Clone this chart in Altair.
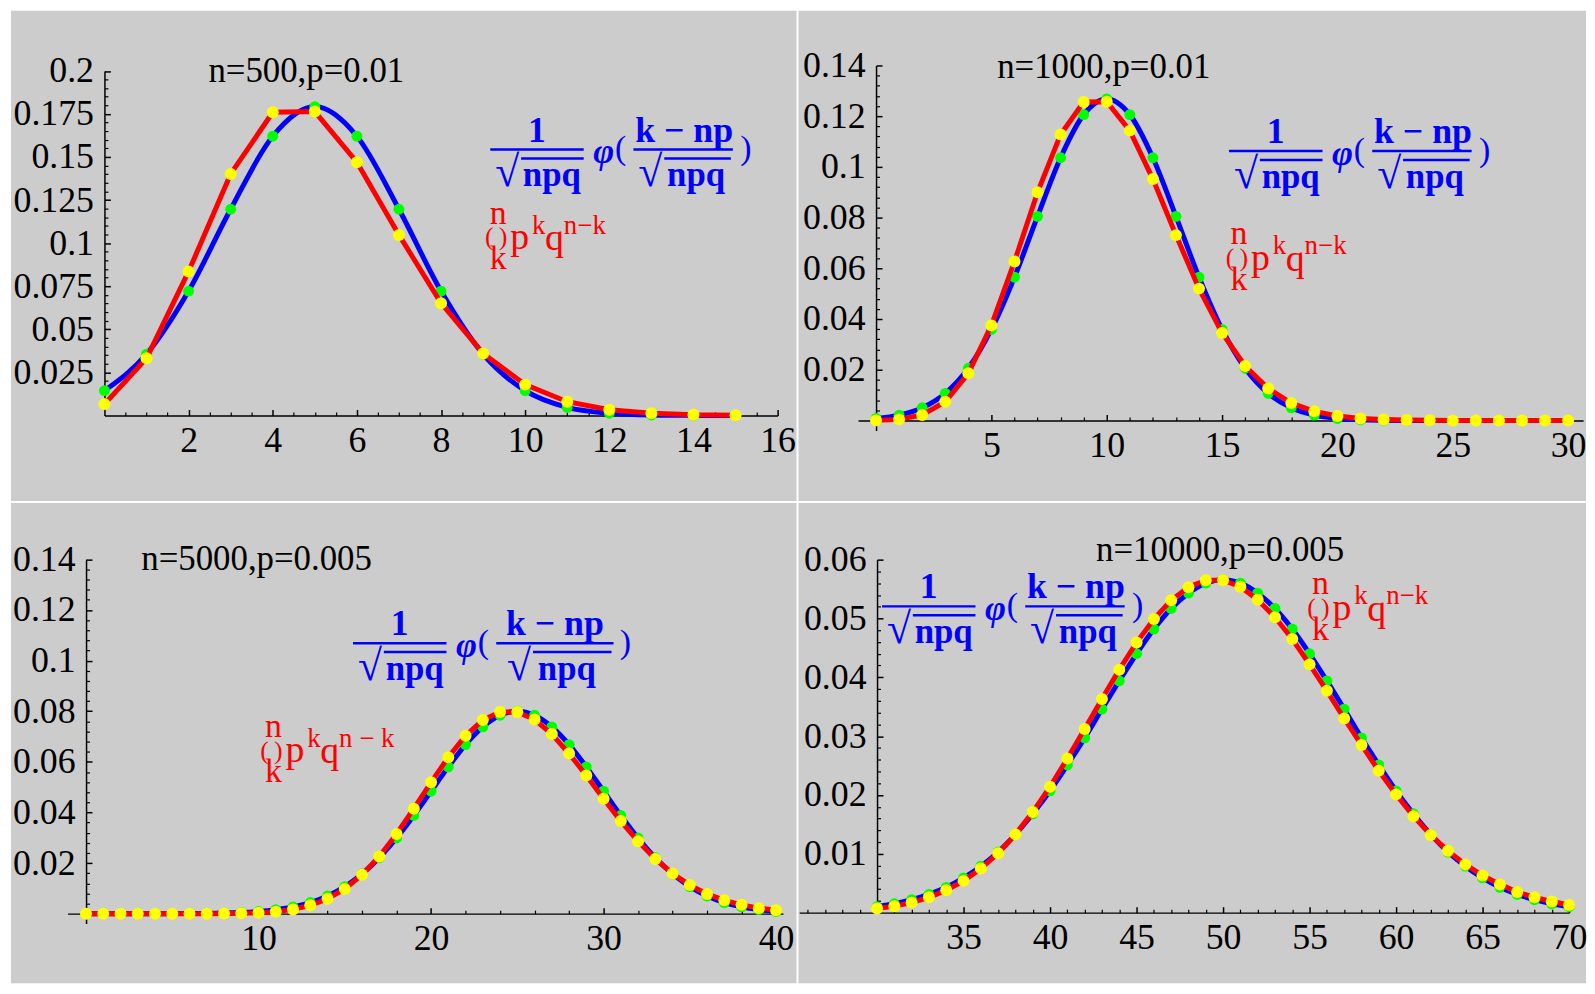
import altair as alt
import pandas as pd

FONT = "Liberation Serif"

# ---------------- data ----------------
K1 = list(range(0, 16))
BINOM1 = [0.0066, 0.0332, 0.0836, 0.1402, 0.1760, 0.1764, 0.1470, 0.1048,
          0.0652, 0.0360, 0.0179, 0.0080, 0.0033, 0.0013, 0.0004, 0.0001]
NORMAL1 = [0.0144, 0.0356, 0.0722, 0.1197, 0.1621, 0.1793, 0.1621, 0.1197,
           0.0722, 0.0356, 0.0144, 0.0047, 0.0013, 0.0003, 0.00005, 0.00001]

K2 = list(range(0, 31))
BINOM2 = [0.00004, 0.00044, 0.0022, 0.0074, 0.0186, 0.0375, 0.0627, 0.0900,
          0.1128, 0.1256, 0.1257, 0.1143, 0.0952, 0.0731, 0.0520, 0.0345,
          0.0215, 0.0126, 0.0069, 0.0036, 0.0018, 0.0008, 0.0004, 0.0002,
          0.0001, 0.00003, 0.00001, 0.0, 0.0, 0.0, 0.0]
NORMAL2 = [0.0008, 0.0021, 0.0050, 0.0107, 0.0206, 0.0359, 0.0565, 0.0805,
           0.1036, 0.1206, 0.1268, 0.1206, 0.1036, 0.0805, 0.0565, 0.0359,
           0.0206, 0.0107, 0.0050, 0.0021, 0.0008, 0.0003, 0.0001, 0.0,
           0.0, 0.0, 0.0, 0.0, 0.0, 0.0, 0.0]

K3 = list(range(0, 41))
BINOM3 = [0.0, 0.0, 0.0, 0.0, 0.0, 0.0, 0.0, 0.00002, 0.00005, 0.00014,
          0.00036, 0.0008, 0.0017, 0.0033, 0.0059, 0.0098, 0.0154, 0.0226,
          0.0315, 0.0415, 0.0519, 0.0618, 0.0703, 0.0765, 0.0797, 0.0797,
          0.0767, 0.0710, 0.0633, 0.0546, 0.0454, 0.0366, 0.0286, 0.0216,
          0.0159, 0.0113, 0.0078, 0.0053, 0.0035, 0.0022, 0.0014]
NORMAL3 = [0.0, 0.0, 0.0, 0.0, 0.00001, 0.00003, 0.00006, 0.00012, 0.00024,
           0.00047, 0.00087, 0.0016, 0.0027, 0.0044, 0.0070, 0.0107, 0.0157,
           0.0221, 0.0299, 0.0388, 0.0484, 0.0580, 0.0668, 0.0738, 0.0784,
           0.0800, 0.0784, 0.0738, 0.0668, 0.0580, 0.0484, 0.0388, 0.0299,
           0.0221, 0.0157, 0.0107, 0.0070, 0.0044, 0.0027, 0.0016, 0.00087]

K4 = list(range(30, 71))
BINOM4 = [0.0007, 0.0011, 0.0017, 0.0026, 0.0038, 0.0054, 0.0075, 0.0101,
          0.0133, 0.0171, 0.0214, 0.0262, 0.0312, 0.0363, 0.0413, 0.0459,
          0.0499, 0.0531, 0.0553, 0.0565, 0.0565, 0.0554, 0.0532, 0.0502,
          0.0465, 0.0422, 0.0377, 0.0330, 0.0285, 0.0241, 0.0201, 0.0164,
          0.0132, 0.0105, 0.0082, 0.0063, 0.0048, 0.0035, 0.0026, 0.0019,
          0.0013]
NORMAL4 = [0.0010, 0.0015, 0.0022, 0.0031, 0.0043, 0.0059, 0.0079, 0.0103,
           0.0133, 0.0168, 0.0207, 0.0251, 0.0297, 0.0346, 0.0394, 0.0440,
           0.0482, 0.0517, 0.0543, 0.0560, 0.0566, 0.0560, 0.0543, 0.0517,
           0.0482, 0.0440, 0.0394, 0.0346, 0.0297, 0.0251, 0.0207, 0.0168,
           0.0133, 0.0103, 0.0079, 0.0059, 0.0043, 0.0031, 0.0022, 0.0015,
           0.0010]

TITLES = ["n=500,p=0.01", "n=1000,p=0.01", "n=5000,p=0.005", "n=10000,p=0.005"]

X_MAJOR1 = [2, 4, 6, 8, 10, 12, 14, 16]
X_MAJOR2 = [5, 10, 15, 20, 25, 30]
X_MAJOR3 = [10, 20, 30, 40]
X_MAJOR4 = [35, 40, 45, 50, 55, 60, 65, 70]
Y_MAJOR1 = [0.025, 0.05, 0.075, 0.1, 0.125, 0.15, 0.175, 0.2]
Y_MAJOR2 = [0.02, 0.04, 0.06, 0.08, 0.1, 0.12, 0.14]
Y_MAJOR3 = [0.02, 0.04, 0.06, 0.08, 0.1, 0.12, 0.14]
Y_MAJOR4 = [0.01, 0.02, 0.03, 0.04, 0.05, 0.06]


def minor_ticks(lo, hi, step, major):
    n = int(round((hi - lo) / step))
    out = []
    for i in range(n + 1):
        v = round(lo + i * step, 6)
        if abs(v / major - round(v / major)) > 1e-6:
            out.append(v)
    return out


PANELS = [
    dict(k=K1, b=BINOM1, n=NORMAL1, title=TITLES[0], ox=11, oy=8, w=790, h=493,
         xd=[0, 16], xr=[94, 771], yd=[0, 0.2], yr=[407, 60.5], xpos=94, ypos=407,
         xmaj=X_MAJOR1, xmin=minor_ticks(0, 16, 0.5, 2),
         ymaj=Y_MAJOR1, ymin=minor_ticks(0, 0.2, 0.005, 0.025), yfmt=".3~f",
         title_at=(308, 69), blue_at=(493, 147.5), red_at=(500, 212), wide=False),
    dict(k=K2, b=BINOM2, n=NORMAL2, title=TITLES[1], ox=803, oy=8, w=792, h=493,
         xd=[-0.78, 30.65], xr=[59.9, 789.1], yd=[-0.0039, 0.14], yr=[422, 55],
         xpos=78, ypos=412,
         xmaj=X_MAJOR2, xmin=minor_ticks(0, 30, 1, 5),
         ymaj=Y_MAJOR2, ymin=minor_ticks(0, 0.14, 0.004, 0.02), yfmt=".2~f",
         title_at=(1110, 65), blue_at=(1236, 149), red_at=(1245, 233), wide=False),
    dict(k=K3, b=BINOM3, n=NORMAL3, title=TITLES[2], ox=11, oy=503, w=790, h=483,
         xd=[-1.07, 40.4], xr=[56.9, 776.4], yd=[-0.0039, 0.14], yr=[423, 56.7],
         xpos=75.5, ypos=413,
         xmaj=X_MAJOR3, xmin=minor_ticks(0, 40, 2, 10),
         ymaj=Y_MAJOR3, ymin=minor_ticks(0, 0.14, 0.004, 0.02), yfmt=".2~f",
         title_at=(258, 559), blue_at=(355, 644), red_at=(274, 728), wide=True),
    dict(k=K4, b=BINOM4, n=NORMAL4, title=TITLES[3], ox=803, oy=503, w=792, h=483,
         xd=[25.5, 70], xr=[0.7, 775], yd=[0, 0.06], yr=[412, 57],
         xpos=79, ypos=412,
         xmaj=X_MAJOR4, xmin=minor_ticks(26, 70, 1, 5),
         ymaj=Y_MAJOR4, ymin=minor_ticks(0, 0.06, 0.002, 0.01), yfmt=".2~f",
         title_at=(1227, 550), blue_at=(887, 607), red_at=(1327, 585), wide=False),
]

BLUE = "#0000ff"
RED = "#ff0000"


def formula_items(p):
    """Text pieces: (text, px, py, fontsize, color, weight, style, align) and rules."""
    x0, yb = p["blue_at"]
    items = [
        ("1", 47, -19, 36, BLUE, "bold", "normal", "center"),
        ("\u221a", 17, 24, 44, BLUE, "bold", "normal", "center"),
        ("npq", 62, 26, 35, BLUE, "bold", "normal", "center"),
        ("\u03c6", 114, 3, 36, BLUE, "bold", "italic", "center"),
        ("(", 131, 0, 34, BLUE, "normal", "normal", "center"),
    ]
    if p["wide"]:
        items += [
            ("k  \u2212  np", 203, -19, 36, BLUE, "bold", "normal", "center"),
            ("\u221a", 167, 24, 44, BLUE, "bold", "normal", "center"),
            ("npq", 215, 26, 35, BLUE, "bold", "normal", "center"),
            (")", 274, 0, 34, BLUE, "normal", "normal", "center"),
        ]
        bars = [(0, 94, 0), (31, 94, 9), (144, 262, 0), (181, 260, 9)]
    else:
        items += [
            ("k \u2212 np", 195, -19, 36, BLUE, "bold", "normal", "center"),
            ("\u221a", 161, 24, 44, BLUE, "bold", "normal", "center"),
            ("npq", 207, 26, 35, BLUE, "bold", "normal", "center"),
            (")", 257, 0, 34, BLUE, "normal", "normal", "center"),
        ]
        bars = [(0, 94, 0), (31, 94, 9), (144, 244, 0), (175, 242, 9)]
    texts = [(t, x0 + dx, yb + dy, fs, c, w, s, a) for (t, dx, dy, fs, c, w, s, a) in items]
    rules = [(x0 + a, x0 + b, yb + dy) for (a, b, dy) in bars]

    xn, yn = p["red_at"]
    sup = "n \u2212 k" if p["wide"] else "n\u2212k"
    red = [
        ("n", 1, 0, 34, "center"),
        ("(\u2009)", -1, 24, 26, "center"),
        ("k", 1, 46, 34, "center"),
        ("p", 13, 25, 38, "left"),
        ("k", 35, 12, 27, "left"),
        ("q", 48, 26, 38, "left"),
        (sup, 67, 12, 27, "left"),
    ]
    texts += [(t, xn + dx, yn + dy, fs, RED, "normal", "normal", a) for (t, dx, dy, fs, a) in red]
    tx, ty = p["title_at"]
    texts.append((p["title"], tx, ty, 35, "black", "normal", "normal", "center"))
    return texts, rules


def make_panel(p):
    def dx(px):
        lx = px - p["ox"]
        return p["xd"][0] + (lx - p["xr"][0]) * (p["xd"][1] - p["xd"][0]) / (p["xr"][1] - p["xr"][0])

    def dy(py):
        ly = py - p["oy"]
        return p["yd"][0] + (ly - p["yr"][0]) * (p["yd"][1] - p["yd"][0]) / (p["yr"][1] - p["yr"][0])

    xs = alt.Scale(domain=p["xd"], range=p["xr"], nice=False, zero=False)
    ys = alt.Scale(domain=p["yd"], range=p["yr"], nice=False, zero=False)

    common = dict(title=None, grid=False)
    xlab = alt.Axis(orient="bottom", offset=p["ypos"] - p["h"], values=p["xmaj"], format="d",
                    ticks=False, tickSize=0, domain=True, domainColor="black", domainWidth=1.5,
                    labelFont=FONT, labelFontSize=36, labelColor="black", labelPadding=8,
                    labelOverlap=False, labelFlush=False, **common)
    xmaj = alt.Axis(orient="top", offset=-p["ypos"], values=p["xmaj"], labels=False, domain=False,
                    ticks=True, tickSize=6, tickColor="black", tickWidth=1.5, **common)
    xmin = alt.Axis(orient="top", offset=-p["ypos"], values=p["xmin"], labels=False, domain=False,
                    ticks=True, tickSize=3.5, tickColor="black", tickWidth=1.2, **common)
    ylab = alt.Axis(orient="left", offset=-p["xpos"], values=p["ymaj"], format=p["yfmt"],
                    ticks=False, tickSize=0, domain=True, domainColor="black", domainWidth=1.5,
                    labelFont=FONT, labelFontSize=36, labelColor="black", labelPadding=11,
                    labelOverlap=False, labelFlush=False, **common)
    ymaj = alt.Axis(orient="right", offset=p["xpos"] - p["w"], values=p["ymaj"], labels=False,
                    domain=False, ticks=True, tickSize=6, tickColor="black", tickWidth=1.5, **common)
    ymin = alt.Axis(orient="right", offset=p["xpos"] - p["w"], values=p["ymin"], labels=False,
                    domain=False, ticks=True, tickSize=3.5, tickColor="black", tickWidth=1.2, **common)

    df = pd.DataFrame({"k": p["k"], "binom": p["b"], "normal": p["n"]})
    base = alt.Chart(df)
    blue_line = base.mark_line(color=BLUE, strokeWidth=5, interpolate="monotone").encode(
        x=alt.X("k:Q", scale=xs, axis=xlab), y=alt.Y("normal:Q", scale=ys, axis=ylab))
    green_pts = base.mark_circle(color="#00ff00", size=120, opacity=1).encode(
        x=alt.X("k:Q", scale=xs, axis=xmaj), y=alt.Y("normal:Q", scale=ys, axis=ymaj))
    red_line = base.mark_line(color=RED, strokeWidth=5).encode(
        x=alt.X("k:Q", scale=xs, axis=xmin), y=alt.Y("binom:Q", scale=ys, axis=ymin))
    yellow_pts = base.mark_circle(color="#ffff00", size=145, opacity=1).encode(
        x=alt.X("k:Q", scale=xs, axis=None), y=alt.Y("binom:Q", scale=ys, axis=None))

    layers = [blue_line, green_pts, red_line, yellow_pts]

    texts, rules = formula_items(p)
    rdf = pd.DataFrame({"x": [dx(a) for a, b, c in rules], "x2": [dx(b) for a, b, c in rules],
                        "y": [dy(c) for a, b, c in rules]})
    layers.append(alt.Chart(rdf).mark_rule(color=BLUE, strokeWidth=2.5).encode(
        x=alt.X("x:Q", scale=xs, axis=None), x2="x2:Q", y=alt.Y("y:Q", scale=ys, axis=None)))

    groups = {}
    for (t, px, py, fs, c, w, s, a) in texts:
        groups.setdefault((c, w, s, a), []).append({"text": t, "x": dx(px), "y": dy(py), "fs": fs})
    for (c, w, s, a), rows in groups.items():
        tdf = pd.DataFrame(rows)
        layers.append(alt.Chart(tdf).mark_text(font=FONT, fontWeight=w, fontStyle=s, align=a,
                                               baseline="middle", color=c).encode(
            x=alt.X("x:Q", scale=xs, axis=None), y=alt.Y("y:Q", scale=ys, axis=None),
            text="text:N", size=alt.Size("fs:Q", scale=None, legend=None)))

    return alt.layer(*layers).resolve_scale(x="shared", y="shared").resolve_axis(
        x="independent", y="independent").properties(width=p["w"], height=p["h"])


chart = alt.concat(*[make_panel(p) for p in PANELS], columns=2, spacing=2, bounds="flush")
chart = chart.configure(
    background="white", padding={"left": 3, "top": 0, "right": 0, "bottom": 0}
).configure_view(fill="#cccccc", stroke=None)

chart.save("out.html", embed_options={"renderer": "svg", "actions": False})
